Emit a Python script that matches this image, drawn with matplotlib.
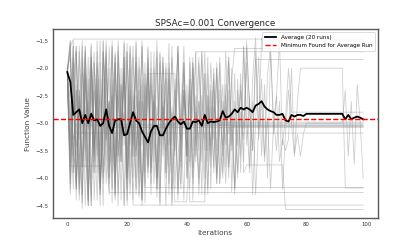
import matplotlib
matplotlib.use("Agg")
import matplotlib.pyplot as plt
import numpy as np

N_ITER = 100
iterations = list(range(N_ITER))

# Average of 20 runs
average = [-2.07, -2.25, -2.85, -2.80, -2.75, -3.00, -2.85, -3.00, -2.83, -2.95,
           -2.93, -3.05, -3.00, -2.75, -3.05, -3.18, -2.95, -2.93, -2.93, -3.22,
           -3.20, -3.00, -2.80, -2.95, -3.00, -3.15, -3.25, -3.35, -3.15, -3.05,
           -3.05, -3.22, -3.22, -3.10, -3.00, -2.93, -2.88, -2.97, -3.02, -2.97,
           -3.10, -3.10, -2.97, -2.98, -2.95, -3.05, -2.85, -3.00, -2.97, -2.98,
           -2.97, -2.95, -2.78, -2.90, -2.88, -2.83, -2.75, -2.80, -2.72, -2.75,
           -2.72, -2.75, -2.80, -2.68, -2.65, -2.60, -2.70, -2.75, -2.78, -2.80,
           -2.85, -2.85, -2.83, -2.95, -2.97, -2.85, -2.88, -2.85, -2.85, -2.87,
           -2.83, -2.83, -2.83, -2.83, -2.83, -2.83, -2.83, -2.83, -2.83, -2.83,
           -2.83, -2.83, -2.83, -2.93, -2.85, -2.93, -2.90, -2.88, -2.90, -2.93]
minimum_found = -2.93

# Individual runs: values read until each run settles, then held at its final value
run_01 = [-2.05, -1.62]
run_01_final = -1.47
run_02 = [-2.10, -2.60, -3.30]
run_02_final = -3.02
run_03 = [-2.00, -1.50, -3.90, -3.40]
run_03_final = -3.05
run_04 = [-2.20, -3.60, -2.50]
run_04_final = -3.18
run_05 = [-2.10, -3.78, -3.78, -3.78, -3.78, -3.78, -3.78, -3.78, -3.78, -3.78,
          -3.78, -3.78, -3.78]
run_05_final = -3.08
run_06 = [-2.10, -1.55, -3.90, -2.40, -4.40, -1.80, -3.20, -4.50, -2.00, -3.60,
          -1.70, -4.10, -2.90, -3.50]
run_06_final = -4.26
run_07 = [-2.00, -3.40, -1.60, -4.20, -2.70, -1.50, -3.80, -2.20, -4.50, -1.90,
          -3.10, -4.30, -1.70, -2.60, -4.00, -1.60, -3.50, -2.30, -4.40, -1.80,
          -3.70, -2.50]
run_07_final = -4.49
run_08 = [-2.20, -4.30, -2.90, -1.70, -3.50, -4.55, -2.10, -3.00, -1.60, -3.90,
          -2.40, -4.20, -1.90, -3.30, -2.00, -4.45, -1.75, -3.60, -2.80, -1.55,
          -4.00, -2.30, -3.40, -1.90, -4.35, -2.60]
run_08_final = -4.17
run_09 = [-2.00, -1.80, -3.70, -2.30, -4.10, -1.60, -3.30, -2.60, -4.40, -1.90,
          -3.00, -1.50, -3.90, -2.20, -4.30, -2.80, -1.70, -3.60, -2.00, -4.50,
          -3.10, -1.60, -2.50, -4.00, -1.80, -3.40, -2.70, -2.10, -2.10, -2.10,
          -2.10, -2.10, -2.10, -2.10, -2.10, -2.10, -2.10, -3.30, -4.20, -2.40,
          -3.60, -1.90, -2.90]
run_09_final = -1.70
run_10 = [-2.10, -3.00, -1.50, -4.20, -2.60, -3.80, -1.70, -4.40, -2.30, -3.50,
          -1.90, -2.80, -4.50, -2.00, -3.20, -1.60, -4.10, -2.90, -3.70, -1.50,
          -2.40, -4.30, -3.10, -1.80, -3.90, -2.20, -4.45, -1.65, -3.40, -2.60,
          -4.00, -1.90, -3.00, -4.50, -2.10, -3.60, -4.43, -4.43, -4.43, -4.43,
          -4.43, -2.50, -3.80, -1.70, -4.10, -2.90, -3.30, -1.80, -4.20, -2.40,
          -3.50, -1.90, -3.90, -2.70, -4.00, -2.20]
run_10_final = -1.64
run_11 = [-2.05, -4.00, -2.50, -1.60, -3.50, -4.30, -2.00, -3.00, -1.80, -4.40,
          -2.70, -3.60, -1.50, -3.20, -4.10, -2.20, -3.80, -1.90, -2.90, -4.50,
          -1.70, -3.40, -2.40, -4.20, -3.00, -1.60, -3.90, -2.10, -4.30, -2.80,
          -1.50, -3.70, -2.30, -4.00, -3.30, -1.80, -2.60, -4.40, -3.10, -1.90,
          -3.60, -2.20, -4.10, -2.70, -3.50, -1.70, -3.00, -4.30, -2.40, -3.80,
          -2.00, -3.20, -4.00, -2.50, -1.80, -3.40, -2.90, -3.90, -2.30, -3.10,
          -1.60, -2.70, -3.50]
run_11_final = -1.84
run_12 = [-1.95, -2.90, -4.20, -1.70, -3.30, -2.10, -4.50, -2.60, -1.55, -3.70,
          -2.30, -4.00, -3.10, -1.80, -3.50, -2.50, -4.35, -1.60, -3.00, -2.20,
          -3.90, -1.75, -4.40, -2.80, -3.40, -1.50, -3.60, -2.40, -4.10, -2.00,
          -3.20, -4.50, -1.90, -2.70, -3.80, -1.60, -4.20, -2.90, -3.30, -2.10,
          -4.00, -1.80, -3.50, -2.50, -4.30, -3.00, -1.70, -3.70, -2.30, -3.90,
          -2.00, -4.10, -2.60, -3.40, -1.90, -3.10, -4.20, -2.40, -3.60, -1.60,
          -2.90, -3.90, -2.20, -1.45, -3.30, -2.60, -3.70, -2.10, -1.60, -3.20,
          -2.50, -1.50, -3.40, -2.90, -2.00]
run_12_final = -2.80
run_13 = [-2.15, -3.50, -1.80, -4.10, -2.40, -3.00, -1.60, -4.40, -2.80, -3.60,
          -2.00, -4.20, -1.50, -3.30, -2.60, -3.90, -1.90, -4.50, -2.30, -3.10,
          -1.70, -3.80, -2.50, -4.30, -3.40, -1.60, -2.90, -4.00, -2.10, -3.70,
          -1.80, -4.45, -2.70, -3.20, -1.55, -3.90, -2.40, -4.20, -3.00, -1.90,
          -3.60, -2.20, -4.40, -2.80, -3.30, -1.70, -4.00, -2.50, -3.50, -2.00,
          -4.10, -3.10, -2.30, -3.80, -1.80, -4.25, -2.60, -3.40, -2.10, -3.90,
          -3.76, -3.76, -3.76, -3.76, -3.76, -3.76, -3.76, -3.76, -3.76, -3.76,
          -3.76, -3.76, -3.76]
run_13_final = -4.57
run_14 = [-2.00, -3.70, -2.30, -4.40, -1.60, -3.20, -2.70, -4.10, -1.80, -3.50,
          -2.20, -4.30, -3.00, -1.50, -3.80, -2.50, -4.00, -1.70, -3.40, -2.10,
          -4.50, -2.90, -1.60, -3.60, -2.40, -4.20, -3.10, -1.90, -3.90, -2.60,
          -4.35, -1.75, -3.30, -2.00, -4.10, -2.80, -3.60, -1.60, -3.00, -4.40,
          -2.30, -3.70, -1.90, -3.20, -4.00, -2.50, -3.50, -2.10, -3.80, -2.70]
run_14_final = -2.98
run_15 = [-2.10, -1.70, -3.40, -4.20, -2.50, -3.80, -1.60, -3.00, -4.50, -2.20,
          -3.60, -1.90, -4.10, -2.80, -3.30, -1.50, -4.30, -2.40, -3.70, -2.00,
          -4.00, -3.10, -1.80, -3.50, -2.60, -4.40, -2.10, -3.90, -1.70, -3.20,
          -4.20, -2.30, -3.60, -1.90, -3.40]
run_15_final = -3.00
run_16 = [-2.05, -3.90, -2.20, -1.60, -4.30, -2.80, -3.50, -1.80, -4.00, -2.40,
          -3.20, -4.50, -1.70, -3.00, -2.60, -4.20, -1.90, -3.70, -2.30, -3.40,
          -1.55, -4.10, -2.90, -3.60, -2.00, -4.40, -3.30, -1.80, -3.80, -2.50,
          -4.00, -1.70, -3.10, -2.20, -4.30, -2.70, -3.50, -1.60, -4.10, -2.40,
          -3.00, -3.80, -1.90, -3.40, -2.60]
run_16_final = -3.04
run_17 = [-2.10, -4.20, -1.90, -3.60, -2.40, -4.45, -1.70, -3.10, -2.80, -3.90,
          -1.50, -3.40, -2.20, -4.10, -2.60, -3.70, -1.80, -4.30, -3.00, -2.00,
          -3.50, -1.60, -4.00, -2.50, -3.30, -4.40, -1.90, -3.80, -2.30, -3.10,
          -1.70, -4.20, -2.70, -3.60, -2.00, -4.50, -2.90, -1.60, -3.40, -2.40,
          -4.00, -3.20, -1.80, -3.70, -2.60, -4.30, -2.10, -3.50, -1.90, -3.00,
          -4.10, -2.40, -3.60, -1.70, -3.20, -2.80, -4.20, -2.20, -3.90, -1.60,
          -3.40, -2.50, -4.30, -3.00, -1.80, -3.60, -2.30, -4.00, -1.70, -2.90,
          -3.50, -2.60, -4.20, -3.20, -2.40, -3.00, -3.60, -2.60,
          -2.00, -2.00, -2.00, -2.00, -2.00, -2.00, -2.00, -2.00, -2.00, -2.00,
          -2.00, -2.00, -2.00, -2.00, -2.00]
run_17_final = -4.18
run_18 = [-2.00, -3.30, -1.60, -4.00, -2.70, -3.80, -2.10, -4.50, -1.80, -3.40,
          -2.50, -4.20, -3.00, -1.70, -3.70, -2.30, -4.40, -1.50, -3.20, -2.80,
          -4.10, -2.00, -3.60, -1.90, -4.30, -2.60, -3.10, -1.60, -3.90, -2.40,
          -4.00, -3.30, -1.80, -3.50, -2.20, -4.45, -2.90, -1.70, -3.80, -2.50,
          -3.20, -4.20, -2.00, -3.60, -1.90, -3.00, -4.30, -2.70, -3.40, -2.20,
          -3.90, -1.80, -3.10, -4.10, -2.40, -3.50, -2.10, -4.00, -2.80, -3.30,
          -1.90, -3.80, -2.60, -4.30, -3.10, -2.20, -3.60, -2.90, -4.20, -3.00,
          -2.50, -3.70, -3.30, -3.50, -3.30, -2.00, -3.55, -3.20, -3.60, -3.20,
          -3.00, -3.00, -3.00, -3.00, -3.00, -3.00, -3.00, -3.00, -3.00, -3.00,
          -3.00, -3.00, -3.00, -2.40, -3.60, -2.60, -3.75, -2.30, -3.00, -4.00]
run_18_final = -4.00
run_19 = [-2.10, -1.50, -3.60, -2.40, -4.20, -1.90, -3.20, -4.50, -2.70, -1.70,
          -3.90, -2.20, -4.00, -3.40, -1.60, -3.00, -4.30, -2.50, -3.70, -1.80,
          -4.40, -2.90, -3.30, -1.55, -3.80, -2.30, -4.10, -2.00, -3.50, -1.70,
          -4.20, -3.10, -2.60, -3.90, -1.90, -3.40, -2.20, -4.30, -2.80, -1.60,
          -3.60, -2.40, -4.00, -3.00, -1.80, -3.70, -2.10, -4.20, -2.70, -3.30,
          -1.90, -4.10, -3.40, -2.50, -3.80, -2.00, -4.30, -3.10, -2.40, -3.70,
          -1.50, -2.80, -3.50, -1.70, -3.10, -1.45]
run_19_final = -1.50
run_20 = [-2.05, -4.10, -2.60, -3.40, -1.70, -4.30, -2.20, -3.70, -1.90, -3.00,
          -4.40, -2.50, -3.50, -1.60, -4.00, -2.80, -3.90, -2.10, -3.30, -1.80,
          -4.20, -2.40, -3.60, -1.50, -3.10, -4.50, -2.30, -3.80, -2.00, -4.10,
          -2.70, -3.40, -1.80, -3.90, -2.60, -4.20, -3.20, -2.20, -3.70, -1.90,
          -3.50, -4.43, -4.43, -4.43, -4.43, -4.43, -4.43, -2.50, -3.60, -2.10,
          -4.00, -2.90, -3.40, -2.30, -3.80]
run_20_final = -3.06

runs = [(run_01, run_01_final), (run_02, run_02_final), (run_03, run_03_final),
        (run_04, run_04_final), (run_05, run_05_final), (run_06, run_06_final),
        (run_07, run_07_final), (run_08, run_08_final), (run_09, run_09_final),
        (run_10, run_10_final), (run_11, run_11_final), (run_12, run_12_final),
        (run_13, run_13_final), (run_14, run_14_final), (run_15, run_15_final),
        (run_16, run_16_final), (run_17, run_17_final), (run_18, run_18_final),
        (run_19, run_19_final), (run_20, run_20_final)]

def full_run(values, final):
    values = list(values)[:N_ITER]
    return values + [final] * (N_ITER - len(values))

fig = plt.figure(figsize=(4.2, 2.45), dpi=100)
ax = fig.add_subplot(111)

for vals, final in runs:
    ax.plot(iterations, full_run(vals, final), color="gray", alpha=0.38, lw=0.6)

ax.plot(iterations, average, color="black", lw=1.3, label="Average (20 runs)",
        zorder=4)
ax.axhline(minimum_found, color="red", ls="--", lw=1.0, zorder=5,
           label="Minimum Found for Average Run")

ax.set_title("SPSAc=0.001 Convergence", fontsize=6.3, color="0.15", pad=2.5)
ax.set_xlabel("Iterations", fontsize=5.3, color="0.25", labelpad=2)
ax.set_ylabel("Function Value", fontsize=5.3, color="0.25", labelpad=3)
ax.set_xticks([0, 20, 40, 60, 80, 100])
ax.set_yticks([-1.5, -2.0, -2.5, -3.0, -3.5, -4.0, -4.5])
ax.tick_params(axis="both", length=0, labelsize=3.9, colors="0.2", pad=3)
for s in ax.spines.values():
    s.set_color("0.35")
    s.set_linewidth(1.0)

leg = ax.legend(loc="upper right", fontsize=4.1, frameon=True, framealpha=0.8,
                borderpad=0.5, handlelength=2.0)
leg.get_frame().set_edgecolor("0.8")
leg.get_frame().set_linewidth(0.6)

fig.subplots_adjust(left=0.125, right=0.9, top=0.88, bottom=0.11)
fig.savefig("out.png", dpi=100)
